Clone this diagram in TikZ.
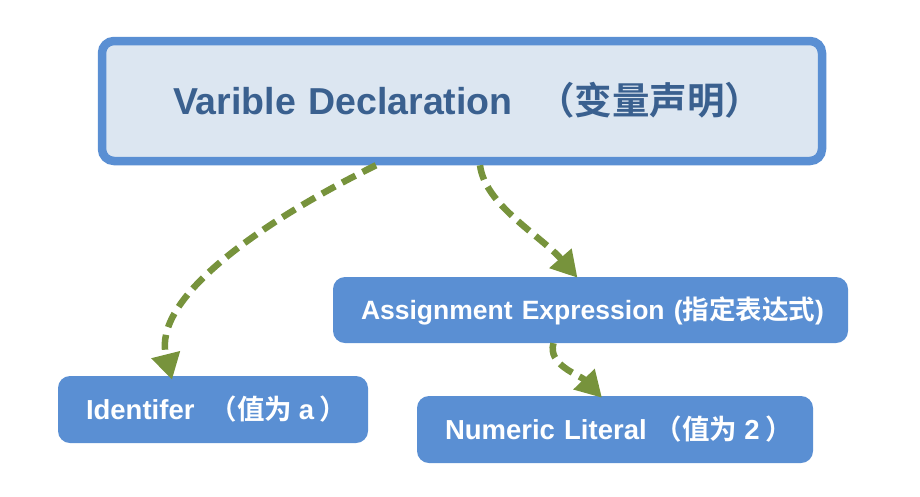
\documentclass[tikz,border=0pt]{standalone}
\usepackage{fontspec}
\setmainfont{Liberation Sans}
\newfontfamily\cjk{Noto Sans CJK SC}[BoldFont={Noto Sans CJK SC Bold}]
\newcommand\zh[1]{{\cjk\bfseries #1}}
\usetikzlibrary{arrows.meta,calc}
\definecolor{boxblue}{RGB}{90,143,211}
\definecolor{titlefill}{RGB}{220,230,241}
\definecolor{titletext}{RGB}{58,96,143}
\definecolor{arrowgreen}{RGB}{119,147,60}
\begin{document}
\begin{tikzpicture}[x=1pt,y=-1pt,
  smallbox/.style={rectangle, rounded corners=12pt, fill=boxblue, text=white,
    font=\bfseries\fontsize{27.5}{30}\selectfont, inner xsep=28pt, inner ysep=0pt,
    text height=19.7pt, text depth=0pt, align=left},
  titlebox/.style={rectangle, rounded corners=12pt, fill=titlefill, draw=boxblue,
    line width=8.5pt, text=titletext, font=\bfseries\fontsize{37.5}{40}\selectfont,
    inner xsep=71pt, inner ysep=0pt, text height=26.8pt, text depth=0pt, align=left},
  flow/.style={draw=arrowgreen, line width=6.5pt, dash pattern=on 15pt off 8pt,
    -{Triangle[length=26pt,width=28pt]}}
]
\useasboundingbox (0,0) rectangle (920,496);

\node[titlebox, minimum width=720pt, minimum height=120pt, text width=578pt]
  (title) at (462,101) {\mbox{Varible Declaration\hspace{0.65em}\zh{（变量声明）}}};

\node[smallbox, minimum width=515pt, minimum height=66pt, text width=459pt]
  (assign) at (590.5,310) {\mbox{\fontsize{26.5}{30}\selectfont Assignment Expression (\zh{指定表达式})}};

\node[smallbox, minimum width=310pt, minimum height=67pt, text width=254pt]
  (ident) at (213,409.5) {\mbox{Identifer\hspace{0.55em}\zh{（值为}\hspace{0.25em}a\hspace{0.2em}\zh{）}}};

\node[smallbox, minimum width=396pt, minimum height=67pt, text width=340pt]
  (num) at (615,429.5) {\mbox{Numeric Literal\hspace{0.3em}\zh{（值为}\hspace{0.25em}2\hspace{0.2em}\zh{）}}};

\draw[flow] ([xshift=-86pt]title.south) .. controls (255,225) and (152,300) .. ([xshift=-41pt,yshift=-4pt]ident.north);
\draw[flow] ([xshift=18pt]title.south) .. controls (485,205) and (540,235) .. ([xshift=-13pt,yshift=-1pt]assign.north);
\draw[flow] ([xshift=-37pt]assign.south) .. controls (547,365) and (580,375) .. ([xshift=-13pt,yshift=-2pt]num.north);
\end{tikzpicture}
\end{document}
